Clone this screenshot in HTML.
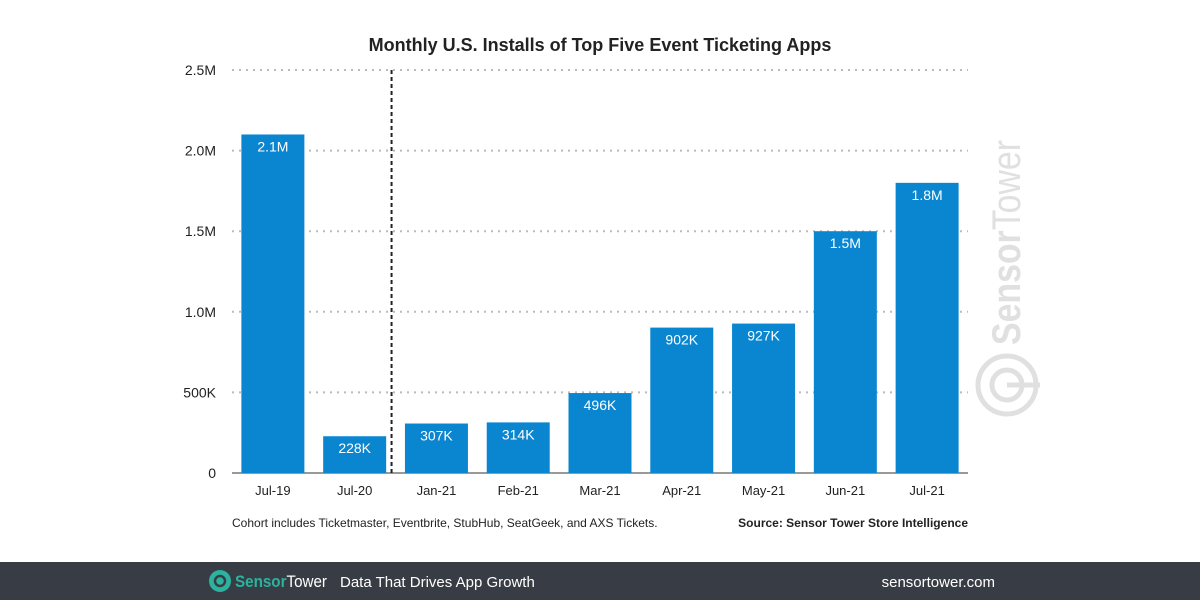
<!DOCTYPE html>
<html><head><meta charset="utf-8"><style>
body{margin:0;width:1200px;height:600px;background:#fff;overflow:hidden;font-family:"Liberation Sans",sans-serif}
svg{display:block}
</style></head><body>
<svg id="chart" width="1200" height="600">
<text x="600" y="51" text-anchor="middle" font-size="18" font-weight="bold" fill="#222">Monthly U.S. Installs of Top Five Event Ticketing Apps</text>
<g id="grid"></g>
<g id="bars"></g>
<g>
<text transform="translate(1020,345) rotate(-90)" font-size="40" font-weight="bold" fill="#e0e0e0" textLength="205" lengthAdjust="spacingAndGlyphs">Sensor<tspan font-weight="normal">Tower</tspan></text>
<circle cx="1007" cy="385" r="29" fill="none" stroke="#e0e0e0" stroke-width="5"/>
<circle cx="1007" cy="385" r="15" fill="none" stroke="#e0e0e0" stroke-width="5"/>
<line x1="1007" y1="385" x2="1040" y2="385" stroke="#e0e0e0" stroke-width="5"/>
</g>
<text x="232" y="527" font-size="12" fill="#222">Cohort includes Ticketmaster, Eventbrite, StubHub, SeatGeek, and AXS Tickets.</text>
<text x="968" y="527" text-anchor="end" font-size="12" font-weight="bold" fill="#222">Source: Sensor Tower Store Intelligence</text>
<rect x="0" y="562" width="1200" height="38" fill="#383d45"/>
<circle cx="220" cy="581" r="11" fill="#2bb3a0"/>
<circle cx="220" cy="581" r="5" fill="none" stroke="#383d45" stroke-width="2.5"/>
<text x="235" y="587" font-size="17" fill="#2bb3a0" font-weight="bold" textLength="92" lengthAdjust="spacingAndGlyphs">Sensor<tspan fill="#fff" font-weight="normal">Tower</tspan></text>
<text x="340" y="587" font-size="15" fill="#fff">Data That Drives App Growth</text>
<text x="995" y="587" text-anchor="end" font-size="15" fill="#fff">sensortower.com</text>
</svg>
<script>
const categories=["Jul-19","Jul-20","Jan-21","Feb-21","Mar-21","Apr-21","May-21","Jun-21","Jul-21"];
const values=[2100000,228000,307000,314000,496000,902000,927000,1500000,1800000];
const valueLabels=["2.1M","228K","307K","314K","496K","902K","927K","1.5M","1.8M"];
const tickValues=[0,500000,1000000,1500000,2000000,2500000];
const tickLabels=["0","500K","1.0M","1.5M","2.0M","2.5M"];
const NS="http://www.w3.org/2000/svg";
const x0=232,x1=968,y0=473,yTop=70,maxV=2500000;
const y=v=>y0-(v/maxV)*(y0-yTop);
const step=(x1-x0)/categories.length;
const xc=i=>x0+step*(i+0.5);
function mk(tag,attrs,parent){const e=document.createElementNS(NS,tag);for(const k in attrs)e.setAttribute(k,attrs[k]);parent.appendChild(e);return e;}
const grid=document.getElementById('grid'),bars=document.getElementById('bars');
tickValues.forEach((v,i)=>{
 if(v>0){const l=mk('line',{x1:x0,x2:x1,y1:y(v),y2:y(v),stroke:'#bbb','stroke-width':2,'stroke-dasharray':'2,5'},grid);
 
 }
 const t=mk('text',{x:216,y:y(v)+5,'text-anchor':'end','font-size':14,fill:'#222'},grid);t.textContent=tickLabels[i];
 
 
});
const ax=mk('line',{x1:x0,x2:x1,y1:y0,y2:y0,stroke:'#333','stroke-width':1},grid);


const dl=mk('line',{x1:x0+step*2-4,x2:x0+step*2-4,y1:70,y2:y0,stroke:'#222','stroke-width':2,'stroke-dasharray':'4,3'},grid);


const bw=63;
categories.forEach((c,i)=>{
 const r=mk('rect',{x:xc(i)-bw/2,y:y(values[i]),width:bw,height:y0-y(values[i]),fill:'#0a86d0'},bars);
 
 
 const t=mk('text',{x:xc(i),y:y(values[i])+17,'text-anchor':'middle','font-size':14,fill:'#fff'},bars);t.textContent=valueLabels[i];
 
 
 const xl=mk('text',{x:xc(i),y:495,'text-anchor':'middle','font-size':13,fill:'#222'},bars);xl.textContent=c;
 
 
});
</script>
</body></html>
